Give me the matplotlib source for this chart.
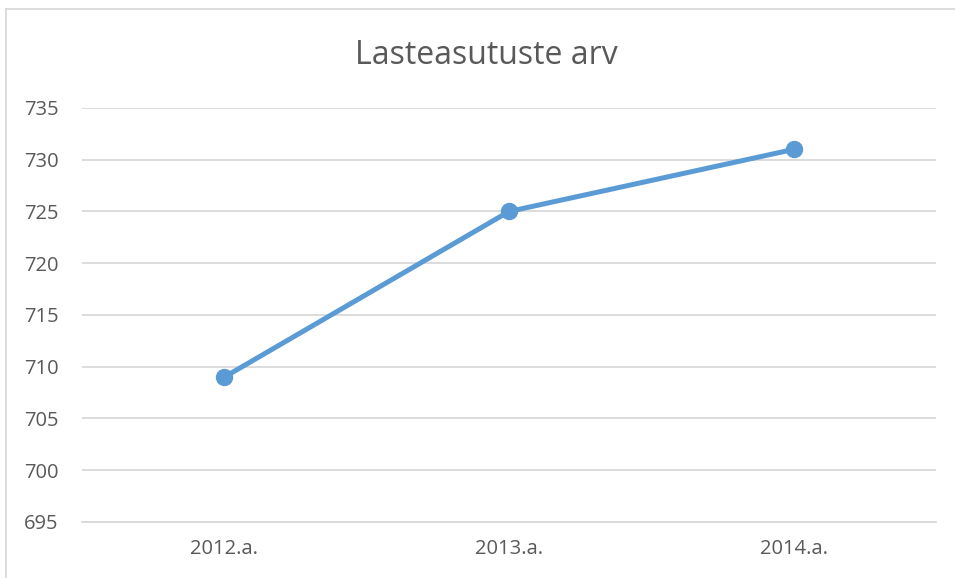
import matplotlib
matplotlib.use('Agg')
import matplotlib.pyplot as plt

# data
years = ['2012.a.', '2013.a.', '2014.a.']
counts = [709, 725, 731]
yticks = [695, 700, 705, 710, 715, 720, 725, 730, 735]

plt.rcParams['font.family'] = ['Open Sans', 'DejaVu Sans']
textcol = '#595959'
gridcol = '#d9d9d9'

fig = plt.figure(figsize=(9.55, 5.78), dpi=100)
ax = fig.add_axes([82/955, 1 - 522/578, (936 - 82)/955, (522 - 108)/578])

ax.plot(range(len(years)), counts, color='#5b9bd5', lw=3.6,
        marker='o', markersize=11.5, solid_capstyle='round', zorder=3)

ax.set_xlim(-0.5, len(years) - 0.5)
ax.set_ylim(695, 735)
ax.set_yticks(yticks)
ax.set_xticks(range(len(years)))
ax.set_xticklabels(years)
ax.grid(axis='y', color=gridcol, lw=1.3)
ax.set_axisbelow(True)
for s in ax.spines.values():
    s.set_visible(False)
ax.spines['bottom'].set_visible(True)
ax.spines['bottom'].set_color(gridcol)
ax.spines['bottom'].set_linewidth(1.3)
ax.tick_params(length=0, labelsize=14.5, colors=textcol)
ax.tick_params(axis='y', pad=17)
ax.tick_params(axis='x', pad=12)

fig.text(486/955, 1 - 56/578, 'Lasteasutuste arv', ha='center', va='center',
         fontsize=23, color=textcol)

# chart frame (only left and top edges are in view)
fig.add_artist(plt.Line2D([5.5/955, 5.5/955], [0, 1 - 9/578], transform=fig.transFigure,
                          color=gridcol, lw=1.3))
fig.add_artist(plt.Line2D([5.5/955, 1], [1 - 9/578, 1 - 9/578], transform=fig.transFigure,
                          color=gridcol, lw=1.3))

fig.savefig('out.png', dpi=100)
